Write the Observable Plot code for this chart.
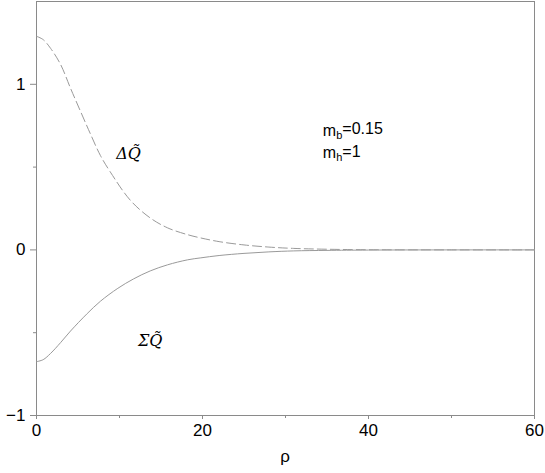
<!DOCTYPE html>
<html>
<head>
<meta charset="utf-8">
<script src="https://cdn.jsdelivr.net/npm/d3@7"></script>
<script src="https://cdn.jsdelivr.net/npm/@observablehq/plot@0.6"></script>
<style>
  body { margin: 0; background: #fff; }
  #chart svg { display: block; }
</style>
</head>
<body>
<div id="chart"></div>
<script>
const rhoDelta = [0, 0.8, 1.7, 2.9, 4.1, 5.3, 6.5, 7.7, 8.9, 11.3, 13.7, 15.8, 18.2, 19.8, 22, 25, 28, 31, 35, 40, 50, 60];
const deltaQ   = [1.29, 1.27, 1.217, 1.12, 0.976, 0.837, 0.70, 0.57, 0.47, 0.30, 0.193, 0.133, 0.092, 0.072, 0.05, 0.03, 0.017, 0.009, 0.004, 0.001, 0, 0];
const rhoSigma = [0, 0.8, 1.7, 2.9, 4.1, 6.1, 7.7, 9.8, 11.7, 13.7, 15.8, 18.2, 19.8, 22, 25, 28, 31, 35, 40, 50, 60];
const sigmaQ   = [-0.675, -0.663, -0.625, -0.56, -0.49, -0.385, -0.31, -0.232, -0.175, -0.127, -0.09, -0.06, -0.048, -0.034, -0.021, -0.012, -0.006, -0.003, -0.001, 0, 0];
const xTicks = [0, 20, 40, 60];
const xMinor = [10, 30, 50];
const yTicks = [-1, 0, 1];
const yMinor = [-0.5, 0.5];
const curveLabels = [
  {x: 11.1, y: 0.58, text: "ΔQ̃"},
  {x: 13.7, y: -0.55, text: "ΣQ̃"}
];
const params = [
  {x: 34.5, y: 0.72, base: "m", sub: "b", rest: "=0.15"},
  {x: 34.5, y: 0.585, base: "m", sub: "h", rest: "=1"}
];

const dq = rhoDelta.map((r, i) => ({rho: r, v: deltaQ[i]}));
const sq = rhoSigma.map((r, i) => ({rho: r, v: sigmaQ[i]}));

const axisColor = "#8a8a8a";
const lineColor = "#9a9a9a";
const noLabel = () => "";

const chart = Plot.plot({
  width: 545,
  height: 473,
  marginLeft: 36,
  marginRight: 11,
  marginTop: 1,
  marginBottom: 58,
  style: {fontFamily: "'Liberation Sans', Arial, sans-serif", fontSize: "17px", color: "#000", background: "#fff"},
  x: {domain: [0, 60]},
  y: {domain: [-1, 1.5]},
  marks: [
    Plot.frame({stroke: axisColor}),
    Plot.axisY(yTicks, {tickSize: 6, tickPadding: 5, stroke: axisColor, fill: "#000", fontSize: 17, label: null, tickFormat: d => d < 0 ? "\u2212" + Math.abs(d) : String(d)}),
    Plot.axisY(yMinor, {tickSize: 3, stroke: axisColor, tickFormat: noLabel, label: null}),
    Plot.axisX(xTicks, {tickSize: 4, tickPadding: 4, stroke: axisColor, fill: "#000", fontSize: 17, label: null}),
    Plot.axisX(xMinor, {tickSize: 3, stroke: axisColor, tickFormat: noLabel, label: null}),
    Plot.line(dq, {x: "rho", y: "v", stroke: lineColor, strokeWidth: 1, strokeDasharray: "9,4", curve: "catmull-rom"}),
    Plot.line(sq, {x: "rho", y: "v", stroke: lineColor, strokeWidth: 1, curve: "catmull-rom"}),
    Plot.text(curveLabels, {x: "x", y: "y", text: "text", fontStyle: "italic", fontFamily: "'DejaVu Serif', serif", fontSize: 16, fill: "#000", textAnchor: "middle"}),
    Plot.text(params, {x: "x", y: "y", text: d => d.base + d.sub + d.rest, textAnchor: "start", fontSize: 16, fill: "#000", className: "param-label"})
  ]
});

// subscripts for parameter labels
d3.select(chart).selectAll("g.param-label text").each(function(d, i) {
  const p = params[i];
  const t = d3.select(this);
  t.text(null);
  t.append("tspan").text(p.base);
  t.append("tspan").attr("dy", "0.3em").attr("font-size", "11px").text(p.sub);
  t.append("tspan").attr("dy", "-0.3em").text(p.rest);
});

// x axis label
d3.select(chart).append("text")
  .attr("x", 285).attr("y", 462)
  .attr("text-anchor", "middle")
  .attr("font-size", 17)
  .attr("fill", "#000")
  .text("ρ");

document.getElementById("chart").appendChild(chart);
</script>
</body>
</html>
